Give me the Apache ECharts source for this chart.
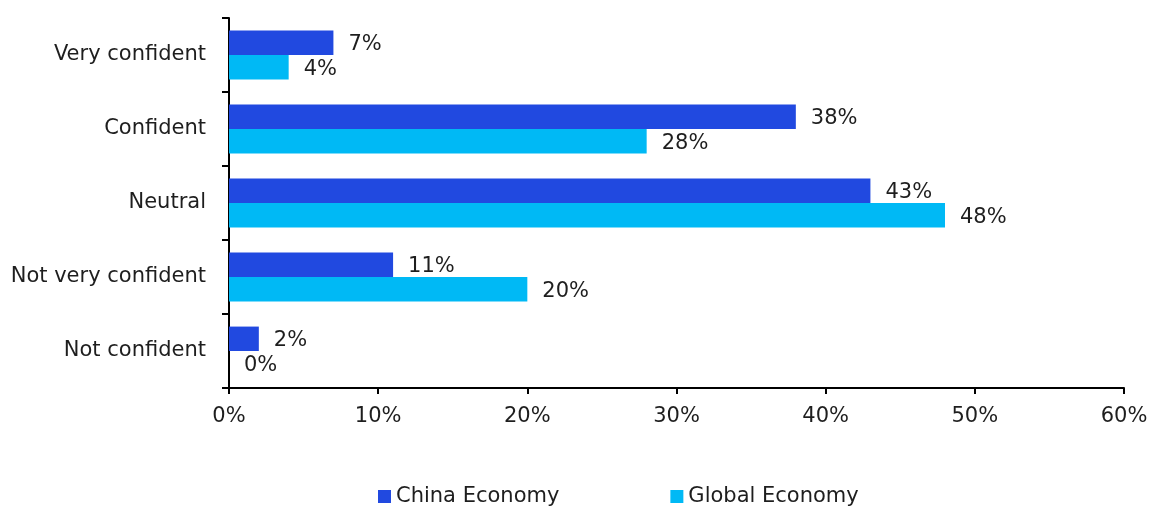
<!DOCTYPE html>
<html>
<head>
<meta charset="utf-8">
<script src="https://cdn.jsdelivr.net/npm/echarts@6/dist/echarts.min.js"></script>
<style>
  html, body { margin: 0; padding: 0; background: #fff; }
  #chart { width: 1152px; height: 506px; }
</style>
</head>
<body>
<div id="chart"></div>
<script>
// Survey answers, top to bottom
const categories = ['Very confident', 'Confident', 'Neutral', 'Not very confident', 'Not confident'];
// Share of respondents (%)
const chinaEconomy = [7, 38, 43, 11, 2];
const globalEconomy = [4, 28, 48, 20, 0];
const seriesNames = ['China Economy', 'Global Economy'];

const FONT = '"DejaVu Sans", sans-serif';
const TEXT = '#1e1e1e';
const SIZE = 21;

const labelStyle = {
  show: true,
  position: 'right',
  distance: 15,
  offset: [0, 2],
  color: TEXT,
  fontFamily: FONT,
  fontSize: SIZE,
  formatter: p => Math.round(p.value) + '%'
};

const chart = echarts.init(document.getElementById('chart'), null, { renderer: 'canvas' });
chart.setOption({
  animation: false,
  backgroundColor: '#fff',
  grid: { left: 229, right: 28, top: 18, bottom: 118, containLabel: false },
  legend: {
    left: 373,
    top: 481,
    itemWidth: 13,
    itemHeight: 13,
    itemGap: 111,
    icon: 'rect',
    textStyle: { color: TEXT, fontFamily: FONT, fontSize: SIZE },
    data: seriesNames
  },
  xAxis: {
    type: 'value',
    min: 0,
    max: 60,
    interval: 10,
    axisLine: { show: true, lineStyle: { color: '#000', width: 2 } },
    axisTick: { show: true, length: 6, lineStyle: { color: '#000', width: 2 } },
    splitLine: { show: false },
    axisLabel: { color: TEXT, fontFamily: FONT, fontSize: SIZE, margin: 18, formatter: v => v + '%' }
  },
  yAxis: {
    type: 'category',
    inverse: true,
    data: categories,
    axisLine: { show: true, lineStyle: { color: '#000', width: 2 } },
    axisTick: { show: true, length: 7, lineStyle: { color: '#000', width: 2 } },
    axisLabel: { color: TEXT, fontFamily: FONT, fontSize: SIZE, margin: 23, padding: [4, 0, 0, 0] }
  },
  series: [
    {
      name: seriesNames[0],
      type: 'bar',
      data: chinaEconomy,
      itemStyle: { color: '#2149e0' },
      barGap: '0%',
      barCategoryGap: '34%',
      label: labelStyle
    },
    {
      name: seriesNames[1],
      type: 'bar',
      data: globalEconomy,
      itemStyle: { color: '#00b9f5' },
      label: labelStyle
    }
  ]
});
</script>
</body>
</html>
